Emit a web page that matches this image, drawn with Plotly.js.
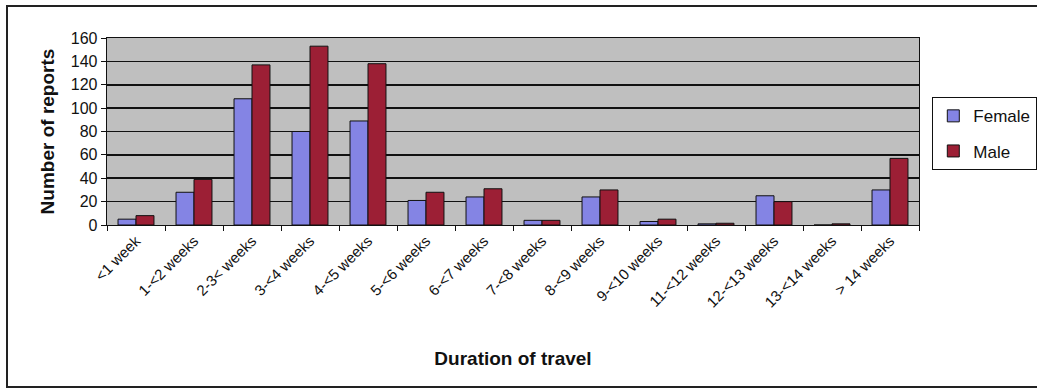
<!DOCTYPE html>
<html>
<head>
<meta charset="utf-8">
<script src="https://cdn.plot.ly/plotly-3.0.1.min.js"></script>
<style>
html,body{margin:0;padding:0;background:#fff;}
#chart{width:1037px;height:390px;}
</style>
</head>
<body>
<div id="chart"></div>
<script>
const categories = ["<1 week","1-<2 weeks","2-3< weeks","3-<4 weeks","4-<5 weeks","5-<6 weeks","6-<7 weeks","7-<8 weeks","8-<9 weeks","9-<10 weeks","11-<12 weeks","12-<13 weeks","13-<14 weeks","> 14 weeks"];
const female = [5, 28, 108, 80, 89, 21, 24, 4, 24, 3, 1, 25, 0, 30];
const male   = [8, 39, 137, 153, 138, 28, 31, 4, 30, 5, 1.5, 20, 1, 57];
const yTicks = [0, 20, 40, 60, 80, 100, 120, 140, 160];

const W = 1037, H = 390;
const mL = 107, mR = 118, mT = 38, mB = 165;
const pw = W - mL - mR, ph = H - mT - mB;
const px = v => (v - mL) / pw;
const py = v => (H - mB - v) / ph;

const traces = [
  {type:'bar', name:'Female', x:categories, y:female, legendgroup:'f',
   marker:{color:'#8484e4', line:{color:'#111', width:1}}},
  {type:'bar', name:'Male', x:categories, y:male, legendgroup:'m',
   marker:{color:'#9c1f35', line:{color:'#111', width:1}}}
];

const layout = {
  width: W, height: H,
  margin:{l:mL, r:mR, t:mT, b:mB, pad:0, autoexpand:false},
  paper_bgcolor:'#ffffff',
  plot_bgcolor:'#bfbfbf',
  font:{family:'Liberation Sans, Arial, sans-serif', size:15, color:'#111'},
  barmode:'group',
  bargap:0.38,
  bargroupgap:0,
  showlegend:true,
  legend:{x:px(932), y:py(97), xanchor:'left', yanchor:'top',
          bgcolor:'#ffffff', bordercolor:'#111', borderwidth:1.3,
          font:{size:17, color:'#111'}, tracegroupgap:10, itemwidth:30},
  xaxis:{type:'category', automargin:false, tickangle:-45,
         ticks:'outside', ticklen:5, tickcolor:'#111', tickson:'boundaries',
         showline:true, linecolor:'#111', linewidth:1.3, mirror:true,
         showgrid:false,
         tickfont:{size:15, color:'#111'},
         title:{text:'<b>Duration of travel</b>', font:{size:19, color:'#111'}, standoff:42}},
  yaxis:{range:[0,160], automargin:false, tickvals:yTicks,
         ticks:'outside', ticklen:5, tickcolor:'#111',
         showline:true, linecolor:'#111', linewidth:1.3, mirror:true,
         showgrid:true, gridcolor:'#111', gridwidth:1.6, zeroline:false,
         tickfont:{size:16, color:'#111'},
         title:{text:'<b>Number of reports</b>', font:{size:19, color:'#111'}, standoff:11}},
  shapes:[
    {type:'rect', xref:'paper', yref:'paper', x0:px(7), x1:px(1045), y0:py(387), y1:py(6),
     line:{color:'#222', width:2}, fillcolor:'rgba(0,0,0,0)', layer:'below'}
  ]
};

Plotly.newPlot('chart', traces, layout, {displayModeBar:false, staticPlot:true});
</script>
</body>
</html>
